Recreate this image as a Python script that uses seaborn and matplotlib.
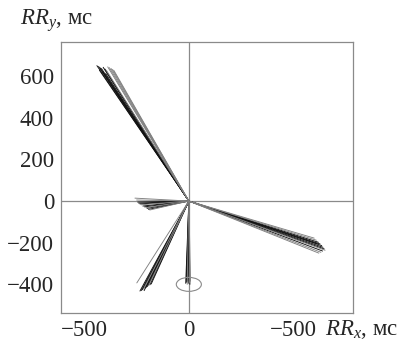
import numpy as np
import pandas as pd
import matplotlib
matplotlib.use("Agg")
import matplotlib.pyplot as plt
from matplotlib.patches import Ellipse
import seaborn as sns

# ---- data (end points of RR vectors, ms) ----
b1_x = [-440, -432, -425, -418, -410, -402, -395, -388, -380, -372, -365, -358, -412, -428, -398]
b1_y = [650, 646, 640, 636, 642, 634, 628, 644, 640, 636, 632, 626, 620, 628, 612]
b1_s = ["d", "d", "d", "d", "d", "d", "l", "l", "l", "l", "l", "l", "d", "d", "d"]

b2_x = [-258, -245, -234, -228, -220, -212, -205, -200, -193, -187, -240, -250]
b2_y = [14, -5, -14, -18, -24, -28, -32, -35, -40, -43, -10, 5]
b2_s = ["l", "d", "d", "l", "d", "d", "l", "d", "d", "l", "d", "l"]

b3_x = [-249, -234, -228, -222, -216, -210, -204, -198, -192, -186, -180, -214]
b3_y = [-393, -432, -430, -426, -422, -418, -414, -410, -406, -402, -398, -430]
b3_s = ["l", "d", "d", "d", "l", "d", "d", "d", "l", "d", "d", "d"]

b4_x = [-15, -11, -8, -5, -3, 0, 3, 5, 8, -12]
b4_y = [-395, -390, -400, -385, -395, -390, -380, -400, -385, -380]
b4_s = ["d", "d", "l", "d", "d", "l", "d", "d", "l", "d"]

b5_x = [600, 610, 620, 628, 636, 642, 648, 652, 640, 632, 622, 615]
b5_y = [-178, -188, -198, -206, -214, -222, -230, -236, -240, -246, -250, -205]
b5_s = ["l", "l", "d", "d", "d", "d", "d", "l", "d", "l", "l", "d"]

ellipse_center = (0, -400)
ellipse_w, ellipse_h = 120, 67

x_ticks = [-500, 0, 500]
x_ticklabels = ["\u2212500", "0", "\u2212500"]
y_ticks = [-400, -200, 0, 200, 400, 600]
y_ticklabels = ["\u2212400", "\u2212200", "0", "200", "400", "600"]

# ---- build table ----
rows = []
lid = 0
for xs, ys, ss in [(b1_x, b1_y, b1_s), (b2_x, b2_y, b2_s), (b3_x, b3_y, b3_s),
                   (b4_x, b4_y, b4_s), (b5_x, b5_y, b5_s)]:
    for ex, ey, s in zip(xs, ys, ss):
        rows.append((lid, 0.0, 0.0, s, 0))
        rows.append((lid, ex, ey, s, 1))
        lid += 1
df = pd.DataFrame(rows, columns=["line", "x", "y", "shade", "order"])

sns.set_style("white")
plt.rcParams["font.family"] = ["Liberation Serif", "DejaVu Serif"]
plt.rcParams["mathtext.fontset"] = "custom"
plt.rcParams["mathtext.it"] = "Liberation Serif:italic"
plt.rcParams["mathtext.rm"] = "Liberation Serif"

fig = plt.figure(figsize=(4.01, 3.45), dpi=100)
ax = fig.add_axes([0.152, 0.093, 0.728, 0.785])

grey = "#8a8a8a"
ax.axhline(0, color=grey, lw=0.9, zorder=1)
ax.axvline(0, color=grey, lw=0.9, zorder=1)

sns.lineplot(data=df, x="x", y="y", units="line", estimator=None, sort=False,
             hue="shade", palette={"d": "#111111", "l": "#808080"},
             legend=False, linewidth=0.65, ax=ax, zorder=2)

ax.add_patch(Ellipse(ellipse_center, ellipse_w, ellipse_h, fill=False,
                     edgecolor=grey, lw=0.8, zorder=3))

ax.set_xlim(-612, 785)
ax.set_ylim(-537, 763)
ax.set_xticks(x_ticks)
ax.set_xticklabels(x_ticklabels)
ax.set_yticks(y_ticks)
ax.set_yticklabels(y_ticklabels)
ax.set_xlabel("")
ax.set_ylabel("")
ax.tick_params(direction="in", length=4, width=0.8, color=grey,
               labelsize=16.5, pad=5)
for sp in ax.spines.values():
    sp.set_color(grey)
    sp.set_linewidth(0.9)

fig.text(0.81, 0.044, "$RR_x$, мс", fontsize=16.5, ha="left", va="center")
fig.text(0.05, 0.94, "$RR_y$, мс", fontsize=16.5, ha="left", va="center")

fig.savefig("out.png", dpi=100)
